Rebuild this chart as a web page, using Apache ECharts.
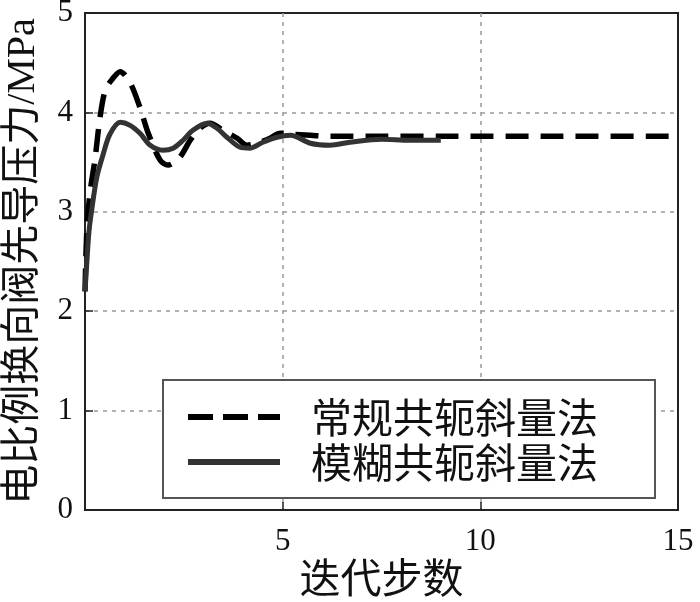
<!DOCTYPE html>
<html>
<head>
<meta charset="utf-8">
<script src="https://cdn.jsdelivr.net/npm/echarts@6/dist/echarts.min.js"></script>
<style>html,body{margin:0;padding:0;background:#fff}#c{width:700px;height:602px}</style>
</head>
<body>
<div id="c"></div>
<script>
// 常规共轭斜量法 (dashed)
const convSteps  = [0, 0.05, 0.13, 0.25, 0.38, 0.51, 0.68, 0.89, 1.14, 1.39, 1.6, 1.9, 2.1, 2.4, 2.66, 2.91, 3.16, 3.49, 3.85, 4.1, 4.35, 4.68, 4.94, 5.2, 5.7, 6.2, 6.7, 7.5, 9, 12, 15];
const convValues = [2.2, 2.85, 3.2, 3.52, 3.95, 4.22, 4.33, 4.41, 4.3, 4.05, 3.79, 3.52, 3.47, 3.55, 3.72, 3.84, 3.89, 3.82, 3.74, 3.67, 3.69, 3.74, 3.79, 3.78, 3.77, 3.76, 3.76, 3.76, 3.76, 3.76, 3.76];
// 模糊共轭斜量法 (solid)
const fuzzySteps  = [0, 0.04, 0.1, 0.17, 0.3, 0.46, 0.63, 0.89, 1.14, 1.39, 1.65, 1.97, 2.23, 2.48, 2.73, 3.09, 3.34, 3.59, 3.92, 4.18, 4.5, 4.86, 5.2, 5.7, 6.2, 6.7, 7.5, 8.2, 9.0];
const fuzzyValues = [2.2, 2.45, 2.8, 3.02, 3.35, 3.58, 3.78, 3.9, 3.87, 3.79, 3.67, 3.62, 3.64, 3.72, 3.82, 3.89, 3.84, 3.75, 3.65, 3.64, 3.70, 3.75, 3.77, 3.69, 3.67, 3.70, 3.73, 3.72, 3.72];

const seriesNames = ['常规共轭斜量法', '模糊共轭斜量法'];
const xName = '迭代步数';
const yName = '电比例换向阀先导压力/MPa';

const pairs = (xs, ys) => xs.map((x, i) => [x, ys[i]]);
const serifCJK = '"Liberation Serif", "Noto Sans CJK SC", serif';

const chart = echarts.init(document.getElementById('c'), null, {renderer: 'canvas'});
chart.setOption({
  animation: false,
  backgroundColor: '#fff',
  grid: {left: 85, right: 22, top: 13, bottom: 92, containLabel: false, outerBoundsMode: 'none',
         show: true, borderColor: '#222', borderWidth: 2, backgroundColor: 'transparent'},
  xAxis: {
    type: 'value', min: 0, max: 15, interval: 5,
    name: xName, nameLocation: 'middle', nameGap: 44,
    nameTextStyle: {fontFamily: serifCJK, fontSize: 41, color: '#111'},
    axisLine: {show: true, lineStyle: {color: '#222', width: 2}},
    axisTick: {show: true, inside: true, length: 8, lineStyle: {color: '#222', width: 1.5}},
    axisLabel: {fontFamily: serifCJK, fontSize: 31, color: '#111', margin: 16,
      formatter: v => v === 0 ? '' : String(v)},
    splitLine: {show: true, showMinLine: false, showMaxLine: false, lineStyle: {color: '#999', type: [4, 5], width: 1.5}}
  },
  yAxis: {
    type: 'value', min: 0, max: 5, interval: 1,
    name: yName, nameLocation: 'middle', nameGap: 42,
    nameTextStyle: {fontFamily: serifCJK, fontSize: 40, lineHeight: 40, color: '#111'},
    axisLine: {show: true, lineStyle: {color: '#222', width: 2}},
    axisTick: {show: true, inside: true, length: 8, lineStyle: {color: '#222', width: 1.5}},
    axisLabel: {fontFamily: serifCJK, fontSize: 31, color: '#111', margin: 12},
    splitLine: {show: true, showMinLine: false, showMaxLine: false, lineStyle: {color: '#999', type: [4, 5], width: 1.5}}
  },
  legend: {
    orient: 'vertical', left: 163, top: 380,
    padding: [16, 57, 15, 22], itemGap: 3,
    itemWidth: 92, itemHeight: 14,
    borderColor: '#555', borderWidth: 2, backgroundColor: '#fff',
    itemStyle: {opacity: 0},
    textStyle: {fontFamily: '"Noto Sans CJK SC", sans-serif', fontSize: 41, lineHeight: 42, color: '#111', padding: [0, 0, 0, 26]},
    data: [
      {name: seriesNames[0], lineStyle: {width: 6, type: [25, 10], color: '#000'}},
      {name: seriesNames[1], lineStyle: {width: 6, type: 'solid', color: '#333'}}
    ]
  },
  series: [
    {name: seriesNames[0], type: 'line', data: pairs(convSteps, convValues), smooth: 0.3, symbol: 'none',
     lineStyle: {color: '#000', width: 5.5, type: [23, 12]}, itemStyle: {color: '#000'}},
    {name: seriesNames[1], type: 'line', data: pairs(fuzzySteps, fuzzyValues), smooth: 0.3, symbol: 'none',
     lineStyle: {color: '#333', width: 5}, itemStyle: {color: '#333'}}
  ]
});
</script>
</body>
</html>
